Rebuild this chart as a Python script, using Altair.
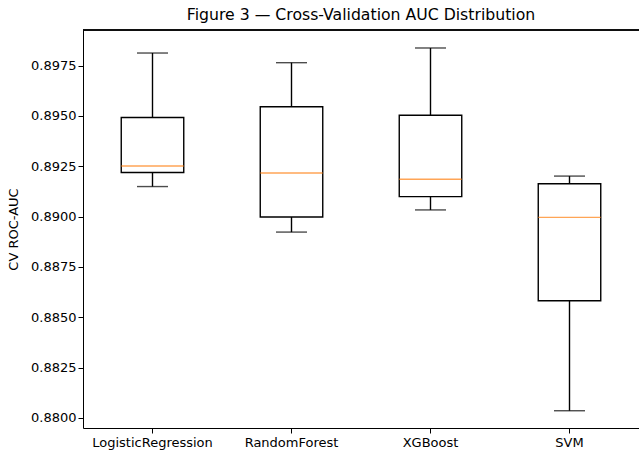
import altair as alt
import pandas as pd

models = ["LogisticRegression", "RandomForest", "XGBoost", "SVM"]
whisker_lo = [0.89149, 0.88923, 0.89033, 0.88036]
q1 = [0.89219, 0.88998, 0.89099, 0.88582]
median = [0.89251, 0.89216, 0.89185, 0.88996]
q3 = [0.89492, 0.89545, 0.89503, 0.89163]
whisker_hi = [0.89812, 0.89764, 0.89837, 0.89201]
y_ticks = [0.8800, 0.8825, 0.8850, 0.8875, 0.8900, 0.8925, 0.8950, 0.8975]

df = pd.DataFrame({
    "model": models, "lo": whisker_lo, "q1": q1, "med": median,
    "q3": q3, "hi": whisker_hi,
})

FONT = "DejaVu Sans"
W, H = 556, 398
LW = 1.4

xenc = alt.X("model:N", sort=models,
             scale=alt.Scale(paddingInner=0, paddingOuter=0),
             axis=alt.Axis(title=None, labelAngle=0, tickSize=5, labelPadding=3,
                           labelFontSize=13, labelColor="black", domainColor="black",
                           tickColor="black", labelFont=FONT, domainWidth=1))
yscale = alt.Scale(domain=[0.879503, 0.899263], nice=False, zero=False)
yaxis = alt.Axis(title="CV ROC-AUC", values=y_ticks, format=".4f", grid=False,
                 tickSize=5, labelPadding=2, labelFontSize=13, labelColor="black",
                 domainColor="black", tickColor="black", titleFontSize=13,
                 titleFontWeight="normal", titleColor="black", titlePadding=10,
                 labelFont=FONT, titleFont=FONT, domainWidth=1)

base = alt.Chart(df)

whisk_hi = base.mark_rule(color="black", strokeWidth=LW).encode(
    x=xenc, y=alt.Y("q3:Q", scale=yscale, axis=yaxis), y2="hi:Q")
whisk_lo = base.mark_rule(color="black", strokeWidth=LW).encode(
    x=xenc, y=alt.Y("lo:Q", scale=yscale, axis=yaxis), y2="q1:Q")
box = base.mark_bar(fill="white", stroke="black", strokeWidth=LW, size=62.5).encode(
    x=xenc, y=alt.Y("q1:Q", scale=yscale, axis=yaxis), y2="q3:Q")
cap_hi = base.mark_tick(color="black", thickness=LW, size=31).encode(
    x=xenc, y=alt.Y("hi:Q", scale=yscale, axis=yaxis))
cap_lo = base.mark_tick(color="black", thickness=LW, size=31).encode(
    x=xenc, y=alt.Y("lo:Q", scale=yscale, axis=yaxis))
med = base.mark_tick(color="#ff7f0e", thickness=LW, size=62.5).encode(
    x=xenc, y=alt.Y("med:Q", scale=yscale, axis=yaxis))
top_spine = alt.Chart(df).mark_rule(color="black", strokeWidth=1).encode(
    y=alt.value(0))

chart = alt.layer(whisk_hi, whisk_lo, box, cap_hi, cap_lo, med, top_spine).properties(
    width=W, height=H,
    background="white",
    title=alt.TitleParams("Figure 3 — Cross-Validation AUC Distribution",
                          fontSize=15.7, font=FONT, fontWeight="normal",
                          color="black", anchor="middle", offset=6),
    padding={"left": 83, "top": 30, "right": 0, "bottom": 22},
    autosize=alt.AutoSizeParams(type="none"),
).configure_view(stroke="transparent", strokeWidth=0, strokeOpacity=0)

chart.save("out.html", embed_options={"renderer": "svg", "actions": False})
